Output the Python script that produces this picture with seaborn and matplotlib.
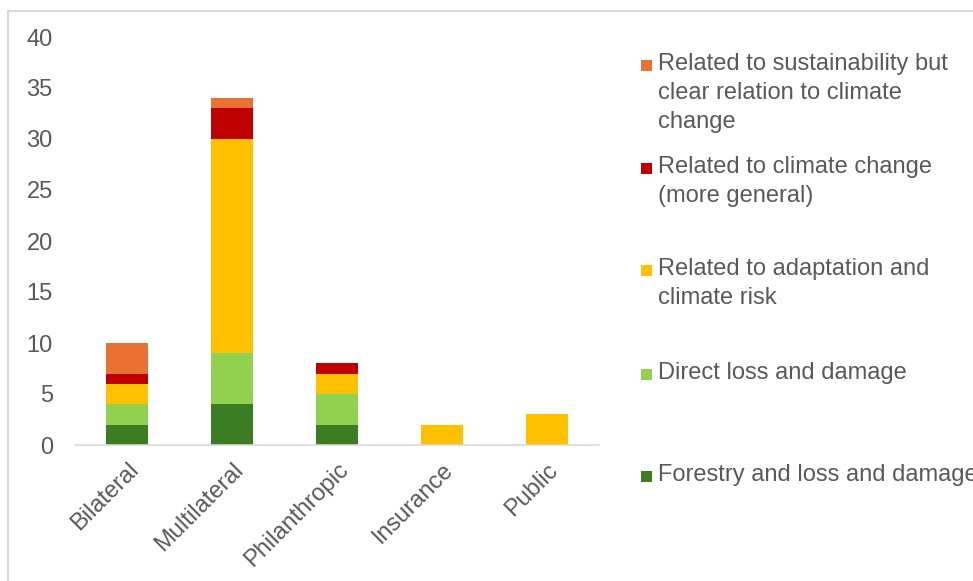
import matplotlib
matplotlib.use("Agg")
import matplotlib.pyplot as plt
from matplotlib.patches import Rectangle
import numpy as np
import pandas as pd
import seaborn as sns

categories = ["Bilateral", "Multilateral", "Philanthropic", "Insurance", "Public"]
forestry = [2, 4, 2, 0, 0]
direct = [2, 5, 3, 0, 0]
adaptation = [2, 21, 2, 2, 3]
climate_general = [1, 3, 1, 0, 0]
sustainability = [3, 1, 0, 0, 0]

series_names = [
    "Forestry and loss and damage",
    "Direct loss and damage",
    "Related to adaptation and\nclimate risk",
    "Related to climate change\n(more general)",
    "Related to sustainability but\nclear relation to climate\nchange",
]
series_values = [forestry, direct, adaptation, climate_general, sustainability]
colors = ["#3B7D23", "#92D050", "#FFC000", "#C00000", "#E97132"]
yticks = [0, 5, 10, 15, 20, 25, 30, 35, 40]

sns.set_theme(style="white")
plt.rcParams["font.family"] = ["Liberation Sans", "DejaVu Sans"]
text_color = "#595959"

fig = plt.figure(figsize=(9.73, 5.81), dpi=100)
ax = fig.add_axes([75 / 973, 1 - 445 / 581, (599 - 75) / 973, (445 - 37) / 581])

bottom = np.zeros(len(categories))
for name, vals, col in zip(series_names, series_values, colors):
    df = pd.DataFrame({"cat": categories, "val": vals})
    sns.barplot(data=df, x="cat", y="val", order=categories, color=col,
                width=0.4, bottom=bottom.copy(), errorbar=None, linewidth=0,
                saturation=1, ax=ax)
    bottom += np.array(vals)

ax.set_ylim(0, 40)
ax.set_xlim(-0.5, 4.5)
ax.set_yticks(yticks)
ax.set_yticklabels([str(t) for t in yticks])
ax.set_xlabel("")
ax.set_ylabel("")
for s in ["top", "right", "left"]:
    ax.spines[s].set_visible(False)
ax.spines["bottom"].set_color("#D9D9D9")
ax.spines["bottom"].set_linewidth(1.2)
ax.tick_params(axis="y", length=0, pad=16, labelsize=17, labelcolor=text_color)
ax.tick_params(axis="x", length=0, pad=10, labelsize=17, labelcolor=text_color)
for lab in ax.get_xticklabels():
    lab.set_rotation(45)
    lab.set_ha("right")
    lab.set_rotation_mode("anchor")

# outer frame
fig.patches.append(Rectangle((8 / 973, -0.1), 1.1, 1 - 11 / 581 + 0.1,
                             transform=fig.transFigure, fill=False,
                             edgecolor="#D9D9D9", linewidth=1.5))

# legend (top entry = last series)
legend_tops = [66, 169, 271, 375, 477]
for i, (name, col) in enumerate(zip(series_names[::-1], colors[::-1])):
    ytop = legend_tops[i]
    fig.patches.append(Rectangle((641 / 973, 1 - (ytop + 5) / 581), 11 / 973, 11 / 581,
                                 transform=fig.transFigure, facecolor=col,
                                 edgecolor="none"))
    fig.text(658 / 973, 1 - (ytop - 13) / 581, name, ha="left", va="top",
             fontsize=17, color=text_color, linespacing=1.42)

fig.savefig("out.png", dpi=100)
